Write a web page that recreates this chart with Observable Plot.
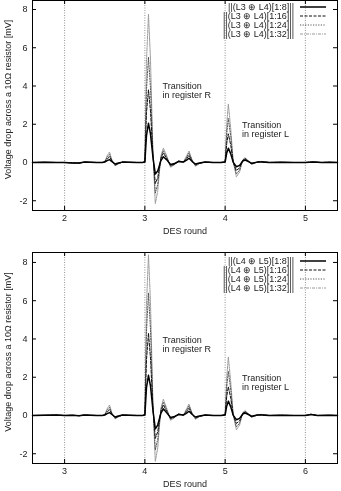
<!DOCTYPE html>
<html>
<head>
<meta charset="utf-8">
<script src="https://cdn.jsdelivr.net/npm/d3@7"></script>
<script src="https://cdn.jsdelivr.net/npm/@observablehq/plot@0.6"></script>
<style>
  html, body { margin: 0; padding: 0; background: white; }
  .panel { position: relative; width: 341px; filter: grayscale(100%); }
  .panel svg { display: block; }
  .legend { position: absolute; left: 0; top: 0; }
</style>
</head>
<body>
<div id="top" class="panel"></div>
<div id="bot" class="panel"></div>
<script>
// ---------- data ----------
const seriesNames = ["1:8", "1:16", "1:24", "1:32"];
const yTicks = [-2, 0, 2, 4, 6, 8];

// top panel: ||(L3 ⊕ L4)[...]||
const topTicksX = [2, 3, 4, 5];
const topX   = [1.60,1.75,1.90,2.00,2.10,2.18,2.25,2.32,2.40,2.47,2.50,2.53,2.56,2.59,2.63,2.67,2.72,2.80,2.90,2.97,3.00,3.02,3.045,3.07,3.10,3.13,3.16,3.20,3.23,3.27,3.32,3.37,3.42,3.48,3.52,3.55,3.59,3.63,3.68,3.75,3.85,3.95,4.00,4.02,4.04,4.07,4.10,4.14,4.18,4.22,4.25,4.29,4.33,4.40,4.45,4.55,4.70,4.85,5.00,5.10,5.20,5.30,5.40];
const topS8  = [0,0.01,0,0,-0.02,-0.03,0.02,0.01,0,0,0.02,0.10,0.15,0.05,-0.08,-0.03,0.02,0.01,0,0,0.02,1.40,2.05,1.50,0.30,-0.60,-0.45,0.10,0.30,0.15,-0.10,-0.05,0.05,0.02,0.12,0.22,0.05,-0.08,-0.03,0.02,0,0,0.02,0.50,0.75,0.45,0.02,-0.22,-0.15,0.08,0.13,0.05,-0.04,0.02,0.03,0,0.01,0,0,0.02,0,0.01,0];
const topS16 = [0,0.01,0,0,-0.02,-0.03,0.02,0.01,0,0,0.03,0.18,0.30,0.08,-0.12,-0.05,0.02,0.01,0,0,0.03,2.60,3.80,2.70,0.40,-1.10,-0.80,0.20,0.50,0.22,-0.15,-0.08,0.06,0.02,0.20,0.38,0.07,-0.12,-0.04,0.02,0,0,0.03,1.00,1.50,0.90,0.04,-0.42,-0.28,0.10,0.18,0.06,-0.06,0.02,0.04,0,0.01,0,0,0.02,0,0.01,0];
const topS24 = [0,0.01,0,0,-0.02,-0.04,0.02,0.01,0,0,0.04,0.27,0.42,0.10,-0.15,-0.06,0.02,0.01,0,0,0.04,3.80,5.50,3.90,0.50,-1.60,-1.15,0.28,0.62,0.30,-0.20,-0.10,0.08,0.02,0.28,0.50,0.09,-0.16,-0.05,0.02,0,0,0.04,1.50,2.30,1.35,0.05,-0.60,-0.40,0.13,0.22,0.07,-0.08,0.02,0.05,0,0.01,0,0,0.03,0,0.01,0];
const topS32 = [0,0.01,0,0,-0.03,-0.04,0.03,0.01,0,0,0.05,0.35,0.55,0.12,-0.18,-0.07,0.02,0.01,0,0,0.05,5.30,7.75,5.40,0.60,-2.15,-1.50,0.35,0.75,0.38,-0.25,-0.12,0.10,0.02,0.35,0.60,0.10,-0.20,-0.06,0.02,0,0,0.05,2.00,3.05,1.75,0.06,-0.75,-0.50,0.15,0.26,0.08,-0.10,0.02,0.06,0,0.01,0,0,0.04,0,0.01,0];
const topLabels = ["||(L3 ⊕ L4)[1:8]||", "||(L3 ⊕ L4)[1:16]||", "||(L3 ⊕ L4)[1:24]||", "||(L3 ⊕ L4)[1:32]||"];
const topNotes = [{x: 3.22, y: 3.77, t: "Transition\nin register R"}, {x: 4.21, y: 1.74, t: "Transition\nin register L"}];

// bottom panel: ||(L4 ⊕ L5)[...]||
const botTicksX = [3, 4, 5, 6];
const botX   = [2.60,2.75,2.90,3.00,3.10,3.18,3.25,3.32,3.40,3.47,3.50,3.53,3.56,3.59,3.63,3.67,3.72,3.80,3.90,3.97,4.00,4.02,4.045,4.07,4.10,4.13,4.16,4.20,4.23,4.27,4.32,4.37,4.42,4.48,4.52,4.55,4.59,4.63,4.68,4.75,4.85,4.95,5.00,5.02,5.04,5.07,5.10,5.14,5.18,5.22,5.25,5.29,5.33,5.40,5.45,5.55,5.70,5.85,6.00,6.07,6.15,6.30,6.40];
const botS8  = [0,0.01,0.02,0,0.01,-0.01,0.02,0.01,0,0,0.02,0.10,0.15,0.05,-0.08,-0.03,0.02,0.01,0,0,0.02,1.45,2.10,1.55,0.30,-0.70,-0.50,0.12,0.35,0.15,-0.10,-0.05,0.05,0.02,0.12,0.22,0.05,-0.08,-0.03,0.02,0,0,0.02,0.50,0.75,0.45,0.02,-0.22,-0.15,0.08,0.13,0.05,-0.04,0.02,0.03,0,0.01,0,0,0.05,0,0.01,0];
const botS16 = [0,0.01,0.02,0,0.01,-0.01,0.02,0.01,0,0,0.03,0.18,0.30,0.08,-0.12,-0.05,0.02,0.01,0,0,0.03,2.90,4.30,3.00,0.45,-1.20,-0.85,0.22,0.55,0.24,-0.15,-0.08,0.06,0.02,0.20,0.38,0.07,-0.12,-0.04,0.02,0,0,0.03,1.00,1.50,0.90,0.04,-0.42,-0.28,0.10,0.18,0.06,-0.06,0.02,0.04,0,0.01,0,0,0.06,0,0.01,0];
const botS24 = [0,0.01,0.02,0,0.01,-0.01,0.02,0.01,0,0,0.04,0.27,0.42,0.10,-0.15,-0.06,0.02,0.01,0,0,0.04,4.40,6.40,4.50,0.55,-1.80,-1.25,0.30,0.70,0.32,-0.20,-0.10,0.08,0.02,0.28,0.50,0.09,-0.16,-0.05,0.02,0,0,0.04,1.50,2.30,1.35,0.05,-0.60,-0.40,0.13,0.22,0.07,-0.08,0.02,0.05,0,0.01,0,0,0.06,0,0.01,0];
const botS32 = [0,0.01,0.02,0,0.01,-0.01,0.03,0.01,0,0,0.05,0.35,0.55,0.12,-0.18,-0.07,0.02,0.01,0,0,0.05,5.80,8.40,5.90,0.65,-2.40,-1.70,0.38,0.85,0.40,-0.25,-0.12,0.10,0.02,0.35,0.60,0.10,-0.20,-0.06,0.02,0,0,0.05,2.00,3.05,1.75,0.06,-0.75,-0.50,0.15,0.26,0.08,-0.10,0.02,0.06,0,0.01,0,0,0.07,0,0.01,0];
const botLabels = ["||(L4 ⊕ L5)[1:8]||", "||(L4 ⊕ L5)[1:16]||", "||(L4 ⊕ L5)[1:24]||", "||(L4 ⊕ L5)[1:32]||"];
const botNotes = [{x: 4.22, y: 3.72, t: "Transition\nin register R"}, {x: 5.21, y: 1.73, t: "Transition\nin register L"}];

// ---------- styles ----------
const lineStyles = [
  {stroke: "#000", strokeWidth: 1.5, strokeDasharray: null},
  {stroke: "#111", strokeWidth: 1, strokeDasharray: "3,1.5"},
  {stroke: "#444", strokeWidth: 0.9, strokeDasharray: "1.2,1.4"},
  {stroke: "#9a9a9a", strokeWidth: 1, strokeDasharray: "3,1,1,1"}
];
const FONT = "'Liberation Sans', Arial, Helvetica, sans-serif";

function panel(el, cfg) {
  const {xs, ys, ticksX, xDomain, yDomain, height, mt, mb, notes, labels, legendY} = cfg;
  const ml = 32, mr = 4, W = 341;
  const fw = W - ml - mr, fh = height - mt - mb;
  const rows = [];
  ys.forEach((arr, si) => arr.forEach((v, i) => rows.push({x: xs[i], y: v, s: si})));
  const order = [3, 2, 1, 0];
  const lineMarks = order.map(si => Plot.line(rows.filter(r => r.s === si), {
    x: "x", y: "y", ...lineStyles[si], strokeLinejoin: "round"
  }));
  const chart = Plot.plot({
    width: W, height, marginLeft: ml, marginRight: mr, marginTop: mt, marginBottom: mb,
    x: {domain: xDomain, axis: null, label: null},
    y: {domain: yDomain, axis: null, label: null},
    style: {fontFamily: FONT, fontSize: "9px", color: "#222", background: "white"},
    marks: [
      Plot.ruleX(ticksX, {x: d => d, stroke: "#777", strokeWidth: 0.8, strokeDasharray: "1,1.5"}),
      ...lineMarks,
      Plot.axisX({ticks: ticksX, tickSize: 0, tickPadding: 4, tickFormat: d => String(d), fontSize: 9, label: null}),
      Plot.axisY({ticks: yTicks, tickSize: 0, tickPadding: 5, tickFormat: d => String(d), fontSize: 9, label: null}),
      Plot.tickY(yTicks, {y: d => d, insetRight: fw - 4, stroke: "#000"}),
      Plot.tickY(yTicks, {y: d => d, insetLeft: fw - 4, stroke: "#000"}),
      Plot.tickX(ticksX, {x: d => d, insetTop: fh - 4, stroke: "#000"}),
      Plot.tickX(ticksX, {x: d => d, insetBottom: fh - 4, stroke: "#000"}),
      Plot.frame({stroke: "#000", strokeWidth: 1}),
      Plot.text(notes, {x: "x", y: "y", text: "t", textAnchor: "start", lineAnchor: "middle", lineHeight: 1.05, fontSize: 9, fill: "#222"}),
      Plot.text(["DES round"], {frameAnchor: "bottom", dy: 21, textAnchor: "middle", lineAnchor: "middle", fontSize: 9, fill: "#222"}),
      Plot.text(["Voltage drop across a 10Ω resistor [mV]"], {frameAnchor: "left", dx: -24, dy: -6, rotate: -90, textAnchor: "middle", lineAnchor: "middle", fontSize: 9, fill: "#222"})
    ]
  });
  el.appendChild(chart);

  // legend (gnuplot-style key, top right inside the frame)
  const svg = d3.select(el).append("svg").attr("class", "legend")
    .attr("width", W).attr("height", 60)
    .style("font-family", FONT).style("font-size", "9px");
  labels.forEach((lab, i) => {
    const y = legendY[i];
    svg.append("text").attr("x", 294).attr("y", y).attr("dy", "0.35em")
      .attr("text-anchor", "end").attr("fill", "#222").text(lab);
    const st = lineStyles[i];
    svg.append("line").attr("x1", 300).attr("x2", 326).attr("y1", y).attr("y2", y)
      .attr("stroke", st.stroke).attr("stroke-width", st.strokeWidth)
      .attr("stroke-dasharray", st.strokeDasharray);
  });
}

panel(document.getElementById("top"), {
  xs: topX, ys: [topS8, topS16, topS24, topS32], ticksX: topTicksX,
  xDomain: [1.6, 5.4], yDomain: [-2.51, 8.47], height: 245, mt: 0, mb: 35,
  notes: topNotes, labels: topLabels, legendY: [7, 16, 25, 34]
});
panel(document.getElementById("bot"), {
  xs: botX, ys: [botS8, botS16, botS24, botS32], ticksX: botTicksX,
  xDomain: [2.6, 6.4], yDomain: [-2.51, 8.52], height: 246, mt: 7, mb: 28,
  notes: botNotes, labels: botLabels, legendY: [16, 25, 34, 43]
});
</script>
</body>
</html>
